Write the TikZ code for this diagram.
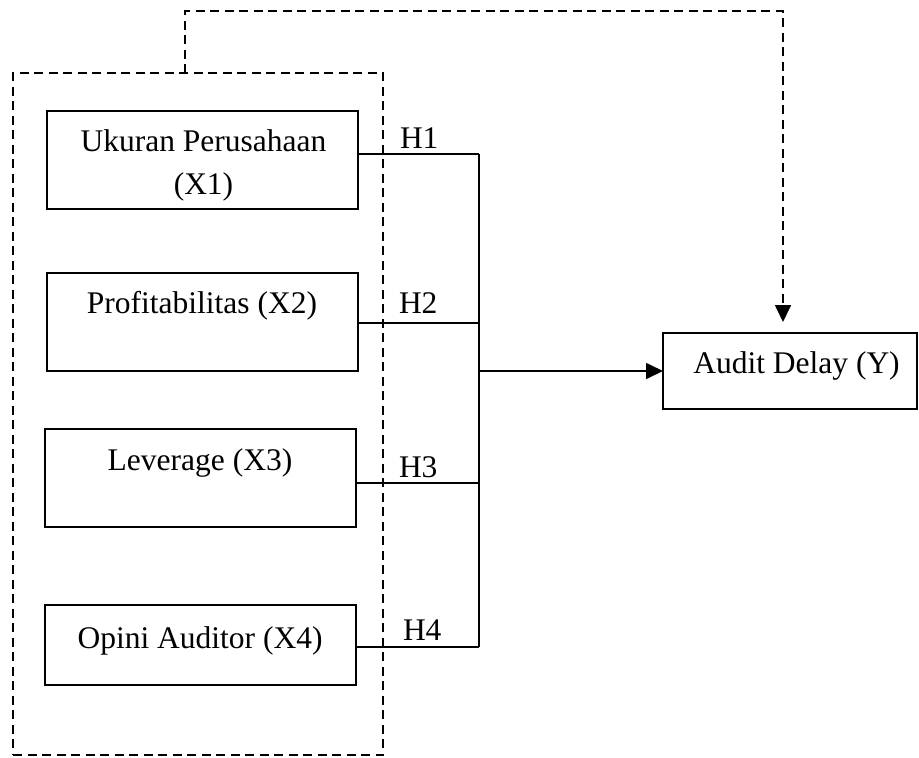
\documentclass[tikz,border=0pt]{standalone}
\usepackage{fontspec}
\setmainfont{Liberation Serif}
\usetikzlibrary{arrows.meta,calc}
\begin{document}
\begin{tikzpicture}[x=1pt,y=-1pt,
  line width=1.7pt,
  every node/.style={inner sep=0pt,outer sep=0pt},
  varbox/.style={draw,rectangle,minimum width=311pt},
  lbl/.style={font=\fontsize{31.5pt}{43pt}\selectfont,anchor=base},
  hlbl/.style={font=\fontsize{31.5pt}{38pt}\selectfont,anchor=base west},
  dashline/.style={dash pattern=on 9pt off 5.5pt},
  tip/.style={-{Triangle[length=17pt,width=16pt]}}]
\useasboundingbox (0,0) rectangle (919,758);
% outer dashed group
\node[draw,dashline,rectangle,minimum width=370pt,minimum height=682pt] (outer) at (198,414) {};
% variable boxes
\node[varbox,minimum height=98pt] (b1) at (202.5,160) {};
\node[varbox,minimum height=98pt] (b2) at (202.5,322) {};
\node[varbox,minimum height=98pt] (b3) at (200.5,478) {};
\node[varbox,minimum height=80pt] (b4) at (200.5,645) {};
\node[draw,rectangle,minimum width=254pt,minimum height=76pt] (y) at (790,371) {};
% texts
\node[lbl] (t1a) at (203.5,151) {Ukuran Perusahaan};
\node[lbl] (t1b) at (203.5,194) {(X1)};
\node[lbl] (t2) at (202,313) {Profitabilitas (X2)};
\node[lbl] (t3) at (200,470) {Leverage (X3)};
\node[lbl] (t4) at (200,648) {Opini Auditor (X4)};
\node[lbl] (ty) at (796.5,373) {Audit Delay (Y)};
% junctions
\coordinate (j1) at (479,154);
\coordinate (j2) at (479,323);
\coordinate (j3) at (479,483);
\coordinate (j4) at (479,647);
\coordinate (jm) at (479,371);
\draw (b1.east |- j1) -- (j1);
\draw (b2.east |- j2) -- (j2);
\draw (b3.east |- j3) -- (j3);
\draw (b4.east |- j4) -- (j4);
\draw (j1) -- (j4);
\draw[tip] (jm) -- (y.west);
% H labels
\node[hlbl] (h1) at (400,148) {H1};
\node[hlbl] (h2) at (399,313) {H2};
\node[hlbl] (h3) at (399,477) {H3};
\node[hlbl] (h4) at (403,640) {H4};
% dashed feedback connector
\coordinate (dt) at (185,11);
\coordinate (dc) at (783,11);
\draw[dashline,tip,shorten >=11pt] (outer.north -| dt) -- (dt) -- (dc) -- (dc |- y.north);
\end{tikzpicture}
\end{document}
